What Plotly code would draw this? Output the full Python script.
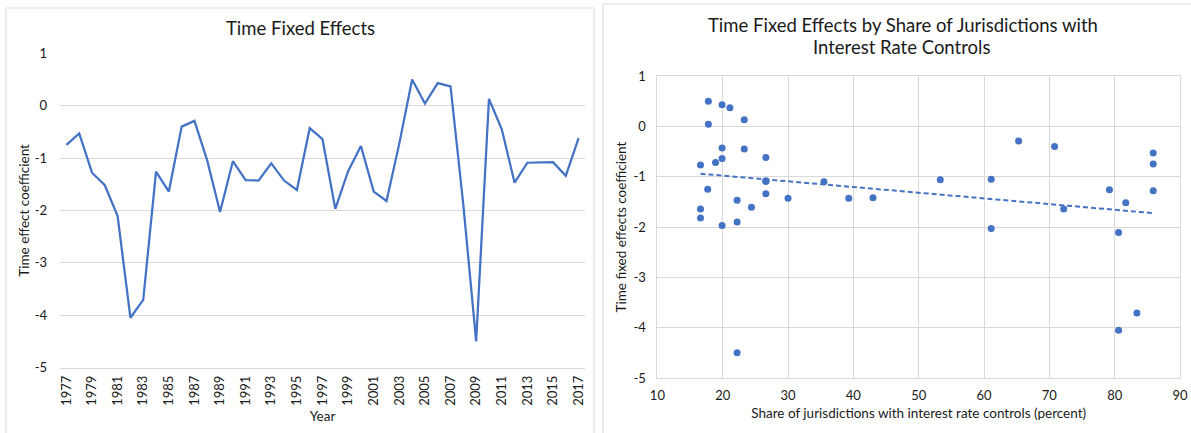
import numpy as np
import plotly.graph_objects as go

# Year-by-year time fixed effects and the share of jurisdictions with rate controls
years = list(range(1977, 2018))
time_effects = [
    -0.75, -0.53, -1.28, -1.52, -2.11, -4.05, -3.71, -1.26, -1.64, -0.40,
    -0.29, -1.05, -2.03, -1.06, -1.42, -1.43, -1.10, -1.43, -1.61, -0.43,
    -0.64, -1.97, -1.25, -0.77, -1.64, -1.82, -0.72, 0.50, 0.04, 0.43,
    0.37, -1.90, -4.50, 0.13, -0.45, -1.47, -1.09, -1.09, -1.08, -1.34,
    -0.62,
]
share_controls = [
    85.9, 85.9, 85.9, 81.7, 80.6, 80.6, 83.4, 79.2, 72.2, 70.8,
    65.3, 61.1, 61.1, 53.3, 43.0, 39.3, 35.5, 30.0, 24.4, 19.9,
    19.9, 19.9, 17.7, 16.6, 16.6, 16.6, 18.9, 17.8, 17.8, 19.9,
    21.1, 22.2, 22.2, 23.3, 23.3, 22.2, 26.6, 26.6, 26.6, 26.6,
    26.6,
]

y_ticks = [1, 0, -1, -2, -3, -4, -5]
share_ticks = [10, 20, 30, 40, 50, 60, 70, 80, 90]
year_ticks = years[::2]

W, H = 1191, 433
BLUE = "#4472C4"
GRID = "#D9D9D9"
FONT = "Lato"
TXT = "#1a1a1a"


def px_x(p):
    return p / W


def px_y(p):
    return 1 - p / H


# Linear trend of effects on share (ordinary least squares)
slope, intercept = np.polyfit(share_controls, time_effects, 1)
trend_x = [min(share_controls), max(share_controls)]
trend_y = [slope * v + intercept for v in trend_x]

fig = go.Figure()

fig.add_trace(go.Scatter(
    x=years, y=time_effects, mode="lines",
    line=dict(color=BLUE, width=2.25),
    xaxis="x", yaxis="y", showlegend=False, hoverinfo="x+y",
))

fig.add_trace(go.Scatter(
    x=share_controls, y=time_effects, mode="markers",
    marker=dict(color=BLUE, size=7, line=dict(width=0)),
    xaxis="x2", yaxis="y2", showlegend=False,
))

fig.add_trace(go.Scatter(
    x=trend_x, y=trend_y, mode="lines",
    line=dict(color=BLUE, width=2, dash="5px,3px"),
    xaxis="x2", yaxis="y2", showlegend=False, hoverinfo="skip",
))

tick_font = dict(family=FONT, size=13, color=TXT)
title_font = dict(family=FONT, size=13.5, color=TXT)
y_ticktext = [str(v) for v in y_ticks]
heading_font = dict(family=FONT, size=18.5, color=TXT)

fig.update_layout(
    width=W, height=H,
    margin=dict(l=0, r=0, t=0, b=0, autoexpand=False),
    paper_bgcolor="white", plot_bgcolor="white",
    font=dict(family=FONT, color=TXT),
    xaxis=dict(
        domain=[px_x(60), px_x(585)],
        range=[1976.5, 2017.5],
        tickmode="array", tickvals=year_ticks,
        ticktext=[str(v) for v in year_ticks],
        tickangle=-90, tickfont=tick_font, ticklabelstandoff=2,
        showgrid=False, zeroline=False, automargin=False,
        showline=True, linecolor=GRID, linewidth=1,
        ticks="", anchor="y",
        title=dict(text="Year", font=title_font, standoff=6),
    ),
    yaxis=dict(
        domain=[px_y(367.5), px_y(53.3)],
        range=[-5, 1],
        tickmode="array", tickvals=y_ticks, ticktext=y_ticktext,
        tickfont=tick_font, ticklabelstandoff=12,
        showgrid=True, gridcolor=GRID, gridwidth=1, automargin=False,
        zeroline=False, showline=False, ticks="", anchor="x",
        title=dict(text="Time effect coefficient", font=title_font, standoff=1),
    ),
    xaxis2=dict(
        domain=[px_x(657.4), px_x(1180)],
        range=[10, 90],
        tickmode="array", tickvals=share_ticks,
        ticktext=[str(v) for v in share_ticks],
        tickfont=tick_font, ticklabelstandoff=5, automargin=False,
        showgrid=True, gridcolor=GRID, gridwidth=1,
        zeroline=False, showline=True, linecolor=GRID, linewidth=1,
        mirror=True, ticks="", anchor="y2",
        title=dict(text="Share of jurisdictions with interest rate controls (percent)",
                   font=title_font, standoff=6),
    ),
    yaxis2=dict(
        domain=[px_y(378), px_y(76)],
        range=[-5, 1],
        tickmode="array", tickvals=y_ticks, ticktext=y_ticktext,
        tickfont=tick_font, ticklabelstandoff=8, automargin=False,
        showgrid=True, gridcolor=GRID, gridwidth=1,
        zeroline=False, showline=True, linecolor=GRID, linewidth=1,
        mirror=True, ticks="", anchor="x2",
        title=dict(text="Time fixed effects coefficient", font=title_font, standoff=3),
    ),
    shapes=[
        dict(type="rect", xref="paper", yref="paper",
             x0=px_x(6), x1=px_x(594), y0=px_y(445), y1=px_y(8),
             line=dict(color=GRID, width=1), fillcolor="rgba(0,0,0,0)", layer="below"),
        dict(type="rect", xref="paper", yref="paper",
             x0=px_x(603), x1=px_x(1200), y0=px_y(445), y1=px_y(4),
             line=dict(color=GRID, width=1), fillcolor="rgba(0,0,0,0)", layer="below"),
    ],
    annotations=[
        dict(text="Time Fixed Effects", xref="paper", yref="paper",
             x=px_x(300), y=px_y(27.5), xanchor="center", yanchor="middle",
             showarrow=False, font=heading_font),
        dict(text="Time Fixed Effects by Share of Jurisdictions with",
             xref="paper", yref="paper",
             x=px_x(903), y=px_y(25), xanchor="center", yanchor="middle",
             showarrow=False, font=heading_font),
        dict(text="Interest Rate Controls",
             xref="paper", yref="paper",
             x=px_x(901), y=px_y(47), xanchor="center", yanchor="middle",
             showarrow=False, font=heading_font),
    ],
)

fig.write_html("out.html")
